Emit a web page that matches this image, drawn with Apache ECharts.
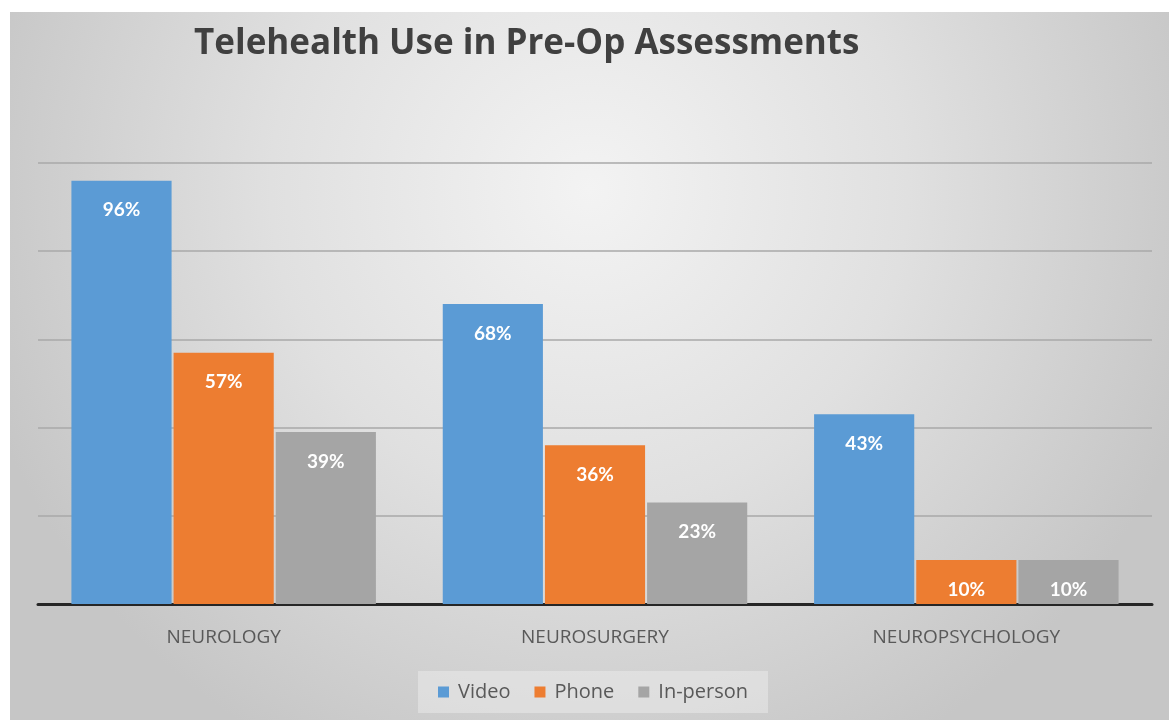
<!DOCTYPE html>
<html style="height: 100%">
<head>
<meta charset="utf-8">
<script src="https://cdn.jsdelivr.net/npm/echarts@6/dist/echarts.min.js"></script>
<style>
  * { margin: 0; padding: 0; }
  body { background: #fff; }
</style>
</head>
<body style="height: 100%; margin: 0">
<div id="container" style="width: 1169px; height: 720px"></div>
<script>
  var categories = ['NEUROLOGY', 'NEUROSURGERY', 'NEUROPSYCHOLOGY'];
  var videoData = [96, 68, 43];
  var phoneData = [57, 36, 10];
  var inPersonData = [39, 23, 10];

  var chart = echarts.init(document.getElementById('container'));

  var label = {
    show: true,
    position: 'insideTop',
    distance: 20,
    color: '#fff',
    fontWeight: 'bold',
    fontSize: 19,
    fontFamily: 'Lato',
    formatter: '{c}%'
  };

  var option = {
    animation: false,
    backgroundColor: '#fff',
    graphic: [{
      type: 'rect',
      z: -10,
      shape: { x: 10, y: 12, width: 1159, height: 708 },
      style: {
        fill: {
          type: 'radial', x: 0.5, y: 0.25, r: 0.9,
          colorStops: [
            { offset: 0, color: '#f3f3f3' },
            { offset: 0.5, color: '#e0e0e0' },
            { offset: 1, color: '#c6c6c6' }
          ]
        }
      }
    }],
    title: {
      text: 'Telehealth Use in Pre-Op Assessments',
      left: 189,
      top: 22,
      textStyle: { color: '#404040', fontSize: 35, fontWeight: 'bold', fontFamily: 'Open Sans' }
    },
    legend: {
      bottom: 7,
      left: 418,
      icon: 'rect',
      itemWidth: 11,
      itemHeight: 11,
      itemGap: 24,
      padding: [11, 20],
      backgroundColor: 'rgba(240,240,240,0.45)',
      textStyle: { color: '#595959', fontSize: 20, fontFamily: 'Open Sans', padding: [0, 0, 0, 4] },
      data: ['Video', 'Phone', 'In-person']
    },
    grid: { left: 38, right: 17, top: 163, bottom: 116 },
    xAxis: {
      type: 'category',
      data: categories,
      axisTick: { show: false },
      axisLine: { lineStyle: { color: '#262626', width: 3 } },
      axisLabel: { color: '#595959', fontSize: 19, margin: 24, fontFamily: 'Open Sans' }
    },
    yAxis: {
      type: 'value',
      min: 0,
      max: 100,
      interval: 20,
      axisLabel: { show: false },
      axisLine: { show: false },
      axisTick: { show: false },
      splitLine: { lineStyle: { color: '#a8a8a8', width: 1.5 } }
    },
    series: [
      { name: 'Video', type: 'bar', data: videoData, barGap: '2%', barCategoryGap: '18%',
        itemStyle: { color: '#5b9bd5' }, label: label },
      { name: 'Phone', type: 'bar', data: phoneData,
        itemStyle: { color: '#ed7d31' }, label: label },
      { name: 'In-person', type: 'bar', data: inPersonData,
        itemStyle: { color: '#a5a5a5' }, label: label }
    ]
  };

  chart.setOption(option);
</script>
</body>
</html>
